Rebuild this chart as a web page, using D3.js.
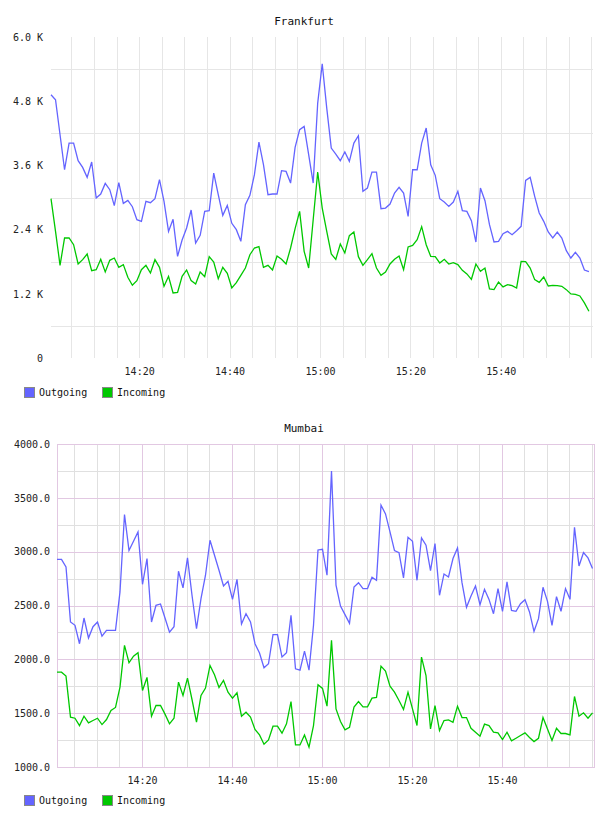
<!DOCTYPE html>
<html>
<head>
<meta charset="utf-8">
<script src="https://cdn.jsdelivr.net/npm/d3@7"></script>
<style>
  body { margin: 0; background: #fff; }
  text { font-family: "DejaVu Sans Mono", monospace; fill: #111; }
  .axis .domain { display: none; }
  .axis line { display: none; }
  .grid .domain { display: none; }
</style>
</head>
<body>
<div id="charts"></div>
<script>
// Global vars
var seriesNames = ["Outgoing", "Incoming"];
var seriesColors = ["#6464ff", "#00c800"];
var timeTickLabels = ["14:20", "14:40", "15:00", "15:20", "15:40"];

// Frankfurt (one point per minute)
var frankfurtOutgoing = [
  4921, 4827, 4173, 3519, 4018, 4018, 3688, 3563, 3376, 3663,
  2990, 3065, 3264, 3146, 2847, 3276, 2891, 2947, 2828, 2585,
  2554, 2928, 2903, 2978, 3333, 2928, 2367, 2592, 1900, 2206,
  2430, 2766, 2150, 2293, 2741, 2753, 3457, 3052, 2666, 2853,
  2517, 2399, 2181, 2866, 3040, 3426, 4036, 3613, 3052, 3065,
  3065, 3501, 3488, 3270, 3937, 4267, 4329, 3800, 3270, 4765,
  5500, 4671, 3924, 3812, 3688, 3850, 3675, 4018, 4155, 3115,
  3177, 3476, 3476, 2791, 2803, 2878, 3084, 3190, 3084, 2648,
  3519, 3519, 4018, 4298, 3613, 3414, 2978, 2915, 2834, 2915,
  3115, 2753, 2741, 2567, 2168, 3177, 2940, 2492, 2168, 2181,
  2324, 2367, 2305, 2380, 2461, 3320, 3376, 3022, 2710, 2554,
  2355, 2243, 2355, 2243, 2006, 1869, 1975, 1869, 1645, 1614
];
var frankfurtIncoming = [
  2978, 2367, 1732, 2243, 2243, 2118, 1757, 1838, 1944, 1633,
  1651, 1844, 1608, 1826, 1869, 1695, 1745, 1508, 1359, 1446,
  1651, 1732, 1589, 1838, 1695, 1340, 1527, 1216, 1228, 1527,
  1645, 1446, 1384, 1608, 1521, 1894, 1795, 1483, 1695, 1583,
  1309, 1409, 1546, 1682, 1931, 2056, 2081, 1695, 1732, 1645,
  1906, 1844, 1757, 2056, 2417, 2741, 1994, 1682, 2585, 3476,
  2803, 2367, 1944, 1844, 2131, 1963, 2287, 2355, 1894, 1732,
  1838, 1950, 1682, 1546, 1608, 1757, 1844, 1906, 1651, 2075,
  2106, 2212, 2455, 2118, 1900, 1894, 1776, 1844, 1757, 1782,
  1745, 1639, 1571, 1471, 1757, 1620, 1682, 1290, 1278, 1421,
  1328, 1371, 1353, 1309, 1807, 1801, 1682, 1465, 1415, 1514,
  1346, 1359, 1353, 1340, 1278, 1197, 1190, 1159, 1029, 873
];
var frankfurtTicks = [0, 1200, 2400, 3600, 4800, 6000];
var frankfurtTickLabels = ["0", "1.2 K", "2.4 K", "3.6 K", "4.8 K", "6.0 K"];

// Mumbai (one point per minute)
var mumbaiOutgoing = [
  2929, 2929, 2858, 2347, 2316, 2145, 2384, 2198, 2303, 2347,
  2216, 2269, 2269, 2269, 2626, 3345, 3010, 3097, 3184, 2697,
  2936, 2347, 2502, 2514, 2384, 2253, 2303, 2818, 2663, 2942,
  2595, 2284, 2564, 2781, 3106, 2967, 2827, 2681, 2725, 2557,
  2743, 2328, 2424, 2347, 2145, 2058, 1922, 1959, 2229, 2229,
  2021, 2061, 2409, 1912, 1900, 2077, 1900, 2316, 3016, 3022,
  2781, 3748, 2688, 2495, 2415, 2334, 2672, 2712, 2657, 2657,
  2762, 2734, 3432, 3351, 3184, 3010, 2991, 2756, 3134, 3097,
  2734, 3128, 3060, 2824, 3075, 2595, 2793, 2765, 2936, 3035,
  2712, 2483, 2588, 2681, 2508, 2650, 2557, 2424, 2657, 2446,
  2719, 2455, 2446, 2517, 2554, 2440, 2260, 2378, 2669, 2539,
  2316, 2582, 2446, 2657, 2557, 3227, 2867, 2991, 2942, 2843
];
var mumbaiIncoming = [
  1881, 1881, 1844, 1463, 1453, 1385, 1472, 1410, 1432, 1453,
  1394, 1441, 1525, 1553, 1742, 2129, 1968, 2030, 2061, 1711,
  1832, 1472, 1571, 1571, 1491, 1401, 1453, 1788, 1664, 1826,
  1627, 1416, 1664, 1733, 1943, 1857, 1739, 1804, 1695, 1640,
  1689, 1472, 1509, 1463, 1348, 1298, 1212, 1252, 1379, 1379,
  1314, 1401, 1608, 1205, 1205, 1298, 1184, 1385, 1764, 1730,
  1565, 2176, 1540, 1422, 1345, 1369, 1556, 1608, 1559, 1559,
  1640, 1646, 1937, 1891, 1751, 1695, 1618, 1534, 1695, 1540,
  1385, 2021, 1850, 1354, 1571, 1339, 1432, 1438, 1416, 1565,
  1459, 1459, 1360, 1323, 1286, 1398, 1385, 1323, 1317, 1255,
  1323, 1243, 1267, 1292, 1317, 1274, 1236, 1267, 1459, 1354,
  1246, 1360, 1311, 1311, 1298, 1655, 1472, 1503, 1453, 1503
];
var mumbaiTicks = [1000, 1500, 2000, 2500, 3000, 3500, 4000];
var mumbaiTickLabels = ["1000.0", "1500.0", "2000.0", "2500.0", "3000.0", "3500.0", "4000.0"];

var d3Time = function(h, m, s) {
  return new Date(2013, 0, 15, h, m, s);
};

var makeTranslate = function(x, y) {
  return "translate(" + x + "," + y + ")";
};

// Render one graphite-style panel.
var renderPanel = function(svg, config) {
  var chartWidth = config.right - config.left;
  var chartHeight = config.bottom - config.top;
  var minute = 60 * 1000;

  var xScale = d3
    .scaleTime()
    .domain([config.start, config.end])
    .range([0, chartWidth]);

  var yScale = d3
    .scaleLinear()
    .domain([config.ticks[0], config.ticks[config.ticks.length - 1]])
    .range([chartHeight, 0]);

  // Title
  svg
    .append("text")
    .attr("x", 304)
    .attr("y", config.top - 12)
    .attr("text-anchor", "middle")
    .style("font-size", "11px")
    .text(config.title);

  var chartElement = svg
    .append("g")
    .attr("transform", makeTranslate(config.left, config.top));

  // Grid lines
  var fiveMinTicks = d3.timeMinute.every(5).range(config.start, config.end);
  var twentyMinTicks = timeTickLabels.map(function(t) {
    var p = t.split(":");
    return d3Time(+p[0], +p[1], 0);
  });

  var midTicks = [];
  for (var i = 0; i < config.ticks.length - 1; i++) {
    midTicks.push((config.ticks[i] + config.ticks[i + 1]) / 2);
  }

  chartElement
    .append("g")
    .attr("class", "x grid")
    .attr("transform", makeTranslate(0, chartHeight))
    .call(
      d3.axisBottom(xScale)
        .tickValues(fiveMinTicks)
        .tickSize(-chartHeight)
        .tickFormat("")
    )
    .selectAll("line")
    .style("stroke", config.minorColor)
    .style("shape-rendering", "crispEdges");

  chartElement
    .append("g")
    .attr("class", "y grid")
    .call(
      d3.axisLeft(yScale)
        .tickValues(midTicks)
        .tickSize(-chartWidth)
        .tickFormat("")
    )
    .selectAll("line")
    .style("stroke", config.minorColor)
    .style("shape-rendering", "crispEdges");

  if (config.majorColor) {
    chartElement
      .append("g")
      .attr("class", "x grid major")
      .attr("transform", makeTranslate(0, chartHeight))
      .call(
        d3.axisBottom(xScale)
          .tickValues(twentyMinTicks)
          .tickSize(-chartHeight)
          .tickFormat("")
      )
      .selectAll("line")
      .style("stroke", config.majorColor)
      .style("shape-rendering", "crispEdges");

    chartElement
      .append("g")
      .attr("class", "y grid major")
      .call(
        d3.axisLeft(yScale)
          .tickValues(config.ticks)
          .tickSize(-chartWidth)
          .tickFormat("")
      )
      .selectAll("line")
      .style("stroke", config.majorColor)
      .style("shape-rendering", "crispEdges");

    chartElement
      .append("rect")
      .attr("x", 0)
      .attr("y", 0)
      .attr("width", chartWidth)
      .attr("height", chartHeight)
      .style("fill", "none")
      .style("stroke", config.majorColor)
      .style("shape-rendering", "crispEdges");
  }

  // Axes labels
  var yAxis = d3
    .axisLeft(yScale)
    .tickValues(config.ticks)
    .tickSize(0)
    .tickPadding(config.yPad)
    .tickFormat(function(d, i) {
      return config.tickLabels[i];
    });

  chartElement
    .append("g")
    .attr("class", "y axis")
    .call(yAxis)
    .selectAll("text")
    .style("font-size", "10px")
    .style("font-family", "DejaVu Sans Mono, monospace")
    .style("fill", "#222");

  var xAxis = d3
    .axisBottom(xScale)
    .tickValues(twentyMinTicks)
    .tickSize(0)
    .tickPadding(10)
    .tickFormat(d3.timeFormat("%H:%M"));

  chartElement
    .append("g")
    .attr("class", "x axis")
    .attr("transform", makeTranslate(0, chartHeight))
    .call(xAxis)
    .selectAll("text")
    .style("font-size", "10px")
    .style("font-family", "DejaVu Sans Mono, monospace")
    .style("fill", "#222");

  // Lines
  var line = d3
    .line()
    .x(function(d, i) {
      return xScale(new Date(config.start.getTime() + i * minute));
    })
    .y(function(d) {
      return yScale(d);
    });

  chartElement
    .selectAll(".series")
    .data(config.series)
    .enter()
    .append("path")
    .attr("class", "series")
    .attr("d", function(d) {
      return line(d);
    })
    .style("fill", "none")
    .style("stroke-width", 1.3)
    .style("stroke", function(d, i) {
      return seriesColors[i];
    });

  // Legend
  var legend = svg
    .append("g")
    .attr("transform", makeTranslate(0, config.legendY))
    .selectAll("g")
    .data(seriesNames)
    .enter()
    .append("g")
    .attr("transform", function(d, i) {
      return makeTranslate(24 + i * 78, 0);
    });

  legend
    .append("rect")
    .attr("x", 0.5)
    .attr("y", -4.5)
    .attr("width", 10)
    .attr("height", 10)
    .style("fill", function(d, i) {
      return seriesColors[i];
    })
    .style("stroke", "#888");

  legend
    .append("text")
    .attr("x", 15)
    .attr("y", 4)
    .style("font-size", "10px")
    .text(function(d) {
      return d;
    });
};

var render = function() {
  var svg = d3
    .select("#charts")
    .append("svg")
    .attr("width", 608)
    .attr("height", 816);

  renderPanel(svg, {
    title: "Frankfurt",
    left: 51,
    right: 593,
    top: 37,
    bottom: 358,
    start: d3Time(14, 0, 30),
    end: d3Time(16, 0, 24),
    ticks: frankfurtTicks,
    tickLabels: frankfurtTickLabels,
    series: [frankfurtOutgoing, frankfurtIncoming],
    minorColor: "#e6e6e6",
    majorColor: null,
    yPad: 8,
    legendY: 392
  });

  renderPanel(svg, {
    title: "Mumbai",
    left: 57,
    right: 594,
    top: 444,
    bottom: 767,
    start: d3Time(14, 1, 7),
    end: d3Time(16, 0, 27),
    ticks: mumbaiTicks,
    tickLabels: mumbaiTickLabels,
    series: [mumbaiOutgoing, mumbaiIncoming],
    minorColor: "#e0e0e0",
    majorColor: "#e2c8e2",
    yPad: 7,
    legendY: 800
  });
};

window.onload = render;
</script>
</body>
</html>
